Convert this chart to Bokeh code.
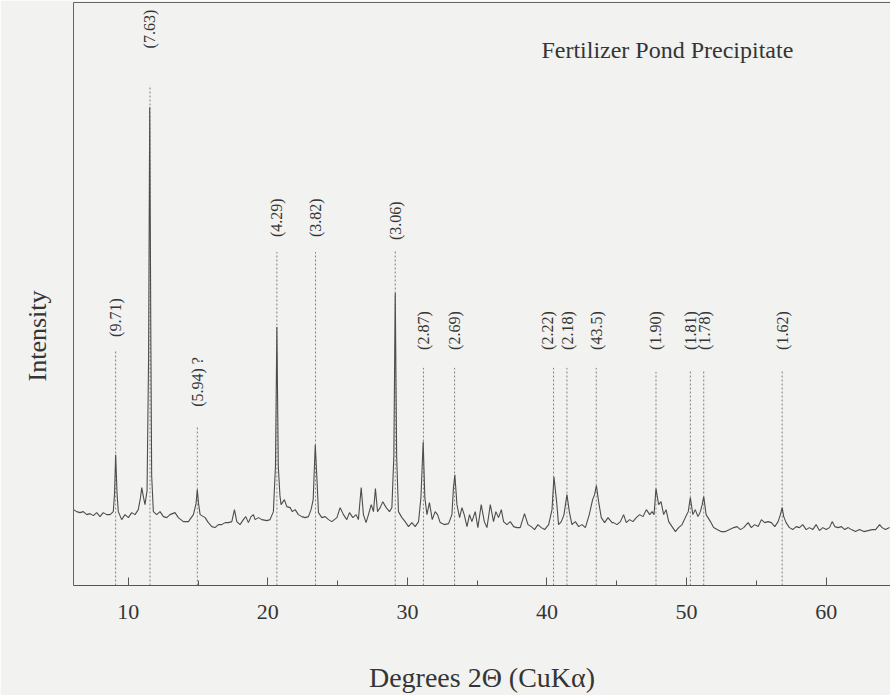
import math
from bokeh.plotting import figure
from bokeh.models import Range1d, LinearAxis, Label, FixedTicker, ColumnDataSource, Title
from bokeh.core.properties import value
from bokeh.embed import file_html
from bokeh.resources import INLINE

# ---- data (2-theta in degrees, intensity in arbitrary units) ----
two_theta = [
    6.08, 6.31, 6.54, 6.78, 7.03, 7.26, 7.50, 7.74, 7.98, 8.21, 8.46, 8.70, 8.93, 9.02, 9.10, 9.20, 9.29,
    9.53, 9.77, 10.01, 10.25, 10.49, 10.72, 10.88, 10.97, 11.10, 11.20, 11.35, 11.46, 11.54, 11.62, 11.68,
    11.80, 12.04, 12.28, 12.52, 12.76, 12.99, 13.35, 13.59, 13.95, 14.31, 14.67, 14.86, 14.95, 15.04, 15.15,
    15.51, 15.74, 15.99, 16.22, 16.46, 16.70, 16.94, 17.18, 17.42, 17.61, 17.78, 18.01, 18.25, 18.42, 18.61,
    18.80, 18.97, 19.09, 19.33, 19.57, 19.93, 20.16, 20.40, 20.55, 20.65, 20.75, 20.87, 20.95, 21.19, 21.36,
    21.60, 21.76, 21.96, 22.19, 22.44, 22.67, 22.91, 23.10, 23.25, 23.40, 23.53, 23.63, 23.87, 24.11, 24.35,
    24.59, 24.95, 25.18, 25.42, 25.66, 25.85, 26.09, 26.33, 26.49, 26.69, 26.85, 27.04, 27.21, 27.41, 27.57,
    27.71, 27.86, 28.05, 28.24, 28.48, 28.72, 28.89, 29.03, 29.13, 29.23, 29.36, 29.61, 29.84, 30.08, 30.32,
    30.56, 30.80, 30.97, 31.13, 31.25, 31.40, 31.58, 31.78, 31.99, 32.16, 32.35, 32.64, 32.95, 33.19, 33.30,
    33.40, 33.55, 33.74, 33.91, 34.07, 34.27, 34.45, 34.62, 34.86, 35.05, 35.29, 35.51, 35.70, 35.94, 36.17,
    36.34, 36.53, 36.73, 36.89, 37.13, 37.37, 37.61, 37.85, 38.08, 38.39, 38.64, 38.87, 39.11, 39.35, 39.59,
    39.83, 40.12, 40.36, 40.50, 40.69, 40.83, 41.03, 41.22, 41.43, 41.60, 41.79, 42.03, 42.27, 42.51, 42.75,
    43.03, 43.27, 43.41, 43.54, 43.70, 43.89, 44.13, 44.37, 44.66, 44.77, 45.02, 45.26, 45.49, 45.68, 45.92,
    46.16, 46.40, 46.64, 46.88, 47.12, 47.36, 47.53, 47.67, 47.81, 48.00, 48.17, 48.36, 48.53, 48.72, 48.96,
    49.20, 49.43, 49.68, 49.91, 50.12, 50.27, 50.45, 50.62, 50.82, 50.99, 51.12, 51.23, 51.40, 51.71, 51.94,
    52.19, 52.47, 52.78, 53.09, 53.38, 53.62, 53.86, 54.09, 54.41, 54.64, 54.88, 55.13, 55.36, 55.60, 55.84,
    56.08, 56.32, 56.56, 56.72, 56.85, 56.96, 57.13, 57.37, 57.61, 57.85, 58.09, 58.32, 58.57, 58.80, 59.04,
    59.28, 59.52, 59.76, 60.00, 60.24, 60.43, 60.62, 60.86, 61.10, 61.33, 61.58, 61.81, 62.10, 62.39, 62.70,
    63.01, 63.30, 63.54, 63.83, 64.01, 64.25, 64.54,
]
intensity = [
    76, 74, 73, 74, 71, 72, 70, 73, 69, 73, 71, 71, 74, 92, 131, 92, 74,
    66, 71, 68, 73, 71, 76, 88, 98, 88, 81, 95, 230, 479, 250, 110,
    74, 71, 74, 69, 68, 71, 73, 68, 64, 64, 71, 82, 96, 82, 71,
    68, 63, 59, 58, 61, 61, 63, 63, 64, 76, 64, 61, 66, 69, 63,
    69, 71, 66, 68, 66, 65, 66, 74, 120, 259, 120, 90, 81, 86, 79,
    78, 74, 76, 71, 69, 68, 69, 76, 86, 141, 104, 73, 68, 69, 66,
    64, 68, 78, 71, 66, 73, 68, 71, 66, 98, 71, 63, 71, 81, 74,
    97, 74, 78, 84, 78, 74, 78, 130, 293, 130, 74, 68, 64, 59, 63,
    59, 64, 88, 144, 88, 71, 83, 66, 74, 71, 63, 61, 62, 71, 98,
    111, 81, 68, 78, 71, 59, 71, 64, 74, 58, 81, 64, 58, 81, 64,
    74, 68, 76, 64, 61, 64, 59, 58, 58, 72, 61, 59, 56, 61, 58,
    56, 61, 76, 109, 84, 61, 64, 71, 91, 74, 61, 64, 59, 61, 58,
    71, 86, 91, 100, 84, 68, 63, 68, 63, 63, 61, 64, 71, 63, 66,
    64, 68, 71, 69, 76, 71, 74, 71, 97, 81, 84, 71, 76, 64, 59,
    54, 58, 61, 68, 74, 88, 71, 76, 69, 74, 81, 89, 71, 64, 58,
    56, 54, 54, 56, 58, 59, 56, 58, 63, 58, 61, 59, 66, 63, 64,
    63, 59, 64, 71, 78, 69, 63, 58, 56, 59, 58, 61, 56, 58, 56,
    61, 55, 58, 56, 58, 64, 59, 58, 59, 56, 58, 56, 54, 56, 54,
    55, 56, 56, 61, 58, 56, 58,
]

# marked reflections: d-spacing labels, 2-theta of the marker line, top of marker line,
# 2-theta and intensity level where each label starts
peak_labels = ["(9.71)", "(7.63)", "(5.94) ?", "(4.29)", "(3.82)", "(3.06)", "(2.87)", "(2.69)",
               "(2.22)", "(2.18)", "(43.5)", "(1.90)", "(1.81)", "(1.78)", "(1.62)"]
peak_pos = [9.10, 11.56, 14.95, 20.65, 23.42, 29.13, 31.15, 33.38,
            40.47, 41.43, 43.53, 47.81, 50.27, 51.23, 56.85]
marker_top = [236, 501, 159, 334, 334, 336, 218, 218, 218, 218, 218, 214, 216, 216, 216]
label_pos = [9.10, 11.56, 14.95, 20.65, 23.42, 29.13, 31.15, 33.38,
             40.02, 41.45, 43.53, 47.81, 50.25, 51.25, 56.85]
label_base = [249, 538, 179, 349, 349, 346, 236, 236, 236, 236, 236, 236, 236, 236, 236]

x_ticks = [10, 20, 30, 40, 50, 60]
x_minor = [15, 25, 35, 45, 55]

title_text = "Fertilizer Pond Precipitate"
x_title = "Degrees 2\u0398 (CuK\u03b1)"
y_title = "Intensity"

# ---- figure ----
BG = "#f2f2f0"
INK = "#353535"
FONT = "Liberation Serif"

p = figure(width=890, height=695, output_backend="svg", toolbar_location=None,
           x_range=Range1d(6.08, 64.61), y_range=Range1d(0, 584),
           y_axis_location=None,
           min_border_left=73, min_border_right=0, min_border_top=2, min_border_bottom=109)
p.background_fill_color = BG
p.border_fill_color = BG
p.outline_line_color = BG
p.grid.visible = False

ax = p.xaxis[0]
ax.ticker = FixedTicker(ticks=x_ticks, minor_ticks=x_minor)
ax.axis_line_color = "#555555"
ax.axis_line_width = 1.2
ax.major_tick_in = 8
ax.major_tick_out = 0
ax.minor_tick_in = 5
ax.minor_tick_out = 0
ax.major_tick_line_color = "#555555"
ax.minor_tick_line_color = "#555555"
ax.major_label_text_font = FONT
ax.major_label_text_font_size = "22px"
ax.major_label_text_color = INK
ax.major_label_standoff = 19
ax.axis_label = x_title
ax.axis_label_text_font = FONT
ax.axis_label_text_font_size = "28px"
ax.axis_label_text_font_style = "normal"
ax.axis_label_text_color = INK
ax.axis_label_standoff = 40

for loc in ("left", "above"):
    a = LinearAxis(ticker=FixedTicker(ticks=[], minor_ticks=[]),
                   axis_line_color="#666666", axis_line_width=1.0,
                   major_tick_line_color=None, minor_tick_line_color=None,
                   major_label_standoff=0, major_tick_out=0, minor_tick_out=0)
    p.add_layout(a, loc)

p.add_layout(Title(text=y_title, align="left", offset=204, standoff=40, vertical_align="top",
                   text_font=FONT, text_font_size="26px", text_font_style="normal",
                   text_color=INK), "left")

# marker lines
p.segment(x0=peak_pos, y0=[0] * len(peak_pos), x1=peak_pos, y1=marker_top,
          line_color="#808080", line_width=1, line_dash="2 2")

# diffraction trace
p.line(two_theta, intensity, line_color="#4d4d4d", line_width=1.1)

# peak labels
src = ColumnDataSource(dict(x=label_pos, y=label_base, t=peak_labels))
p.text(x="x", y="y", text="t", source=src, angle=math.pi / 2,
       text_align="left", text_baseline="middle",
       text_font=value(FONT), text_font_size="16px", text_color=INK)

p.add_layout(Label(x=39.6, y=536, text=title_text, text_font=FONT, text_font_size="24px",
                   text_color=INK, text_align="left", text_baseline="middle"))

open("out.html", "w").write(file_html(p, INLINE))
